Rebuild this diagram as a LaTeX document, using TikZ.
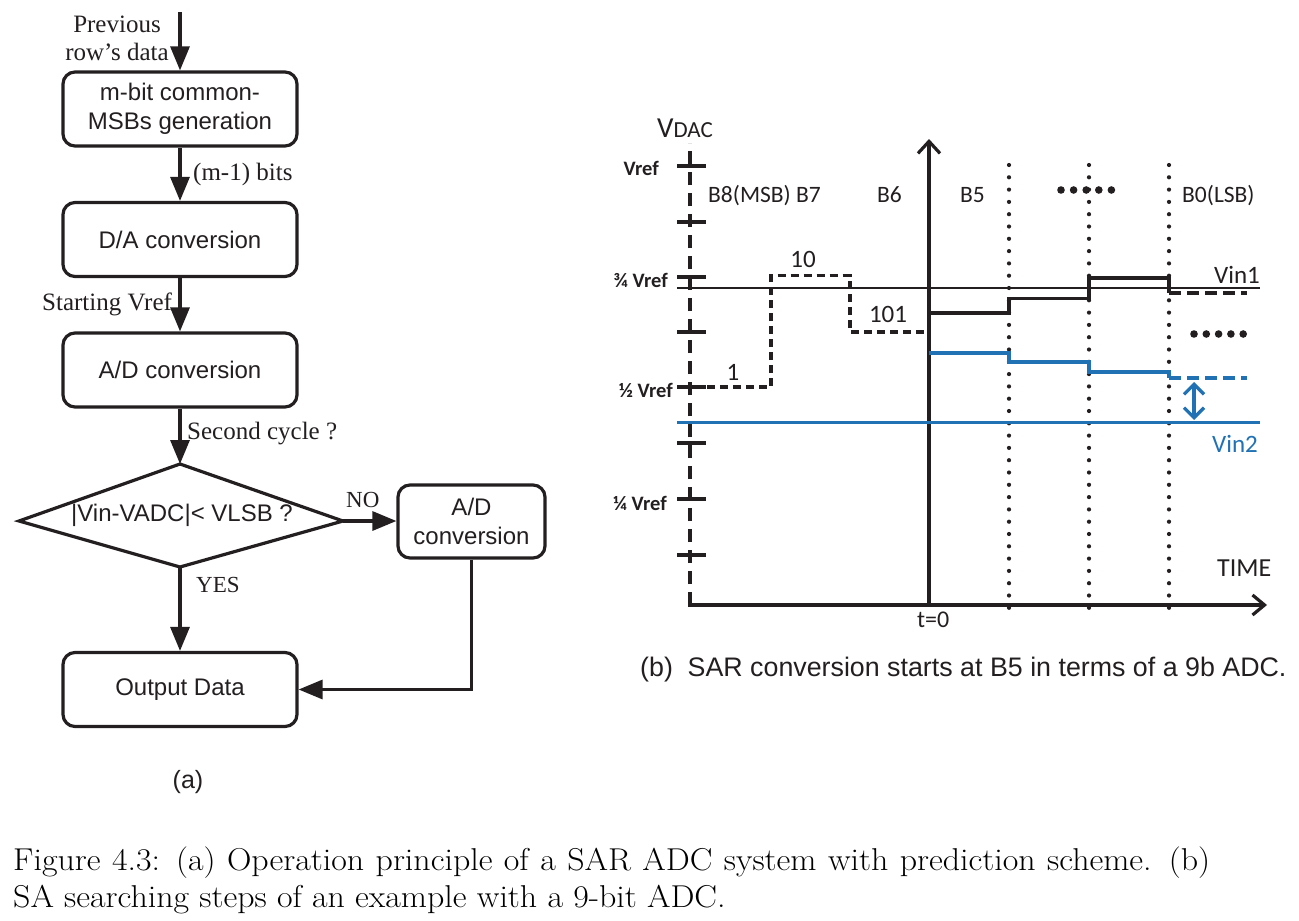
\documentclass[tikz,border=0pt]{standalone}
\usepackage{fontspec}
\newfontfamily\arialf{Liberation Sans}
\newfontfamily\timesf{Liberation Serif}
\newfontfamily\calf{Carlito}
\usetikzlibrary{arrows.meta,shapes.geometric}
\definecolor{ink}{RGB}{35,31,32}
\definecolor{vblue}{RGB}{33,113,181}
\begin{document}
\begin{tikzpicture}[x=1pt,y=-1pt,
  box/.style={draw=ink, line width=3.2pt, rounded corners=12pt, minimum width=234pt, minimum height=74pt, inner sep=0pt, font=\arialf\fontsize{24pt}{29pt}\selectfont, align=center, text=ink},
  flow/.style={draw=ink, line width=3.2pt, -{Triangle[length=24pt,width=19pt]}},
  slab/.style={font=\timesf\fontsize{25pt}{30pt}\selectfont, text=ink, inner sep=0pt},
  clab/.style={font=\calf\fontsize{23.5pt}{27pt}\selectfont, text=ink, inner sep=0pt},
  nlab/.style={font=\calf\fontsize{25pt}{29pt}\selectfont, text=ink, inner sep=0pt},
  tlab/.style={font=\calf\bfseries\fontsize{20.5pt}{24pt}\selectfont, text=ink, inner sep=0pt, anchor=base east},
  thick3/.style={line width=3.2pt},
  ]
\useasboundingbox (0,0) rectangle (1299,921);

% ---------------- flowchart (a)
\node[box] (b1) at (180,109) {m-bit common-\\MSBs generation};
\node[box] (b2) at (180,239.5) {D/A conversion};
\node[box] (b3) at (180,370) {A/D conversion};
\node[font=\arialf\fontsize{24pt}{29pt}\selectfont, text=ink, inner sep=0pt] (d) at (182,515) {|Vin-VADC|< VLSB ?};
\coordinate (dt) at (180,464);
\coordinate (dr) at (343,521);
\coordinate (db) at (180,567);
\coordinate (dl) at (19,521);
\draw[ink, line width=3.2pt, line join=miter] (dt) -- (dr) -- (db) -- (dl) -- cycle;
\node[box, minimum width=147pt, minimum height=73pt] (b4) at (471.5,521.5) {A/D\\conversion};
\node[box] (b5) at (180,689.5) {Output Data};
\coordinate (top) at (180,12);

\draw[flow] (top) -- (b1);
\draw[flow] (b1) -- (b2);
\draw[flow] (b2) -- (b3);
\draw[flow] (b3) -- (dt);
\draw[flow] (dr) -- (dr -| b4.west);
\draw[flow] (db) -- (b5);
\draw[flow] (b4.south) |- (b5.east);

\node[slab, anchor=base] (prev1) at (117,32) {Previous};
\node[slab, anchor=base] (prev2) at (117,60) {row’s data};
\node[slab, anchor=base west] (mbits) at (193,180) {(m-1) bits};
\node[slab, anchor=base west] (svref) at (42,310) {Starting Vref};
\node[slab, anchor=base west] (sec) at (187,439) {Second cycle ?};
\node[slab, anchor=base west, font=\timesf\fontsize{23pt}{28pt}\selectfont] (no) at (346,507) {NO};
\node[slab, anchor=base west, font=\timesf\fontsize{23pt}{28pt}\selectfont] (yes) at (196,592) {YES};
\node[font=\arialf\fontsize{25pt}{30pt}\selectfont, anchor=base, inner sep=0pt, text=ink] (capa) at (188,788) {(a)};

% ---------------- chart (b)
\draw[ink, thick3, dash pattern=on 13pt off 8pt] (690,605) -- (690,143);
\foreach \y in {166,222,277,332,387,443,499,555}
  \draw[ink, thick3] (677,\y) -- (706,\y);
\draw[ink, thick3, -{Straight Barb[length=12pt,width=20pt]}] (688.4,605) -- (1267,605);
\draw[ink, thick3, -{Straight Barb[length=12pt,width=22pt]}] (929,606.6) -- (929,139);
\foreach \x in {1009,1089,1169}
  \draw[ink, line width=4.2pt, line cap=round, dash pattern=on 0pt off 12.3pt] (\x,165) -- (\x,617);

\draw[ink, line width=1.7pt] (677,288) -- (1260,288);
\draw[vblue, line width=2.3pt] (677,422.5) -- (1260,422.5);

\draw[ink, line width=3.3pt, dash pattern=on 8pt off 5pt] (707,387) -- (771,387) -- (771,275.5) -- (850,275.5) -- (850,332) -- (928,332);
\draw[ink, line width=3.3pt] (929,313) -- (1009,313) -- (1009,298.5) -- (1089,298.5) -- (1089,278) -- (1169,278) -- (1169,293);
\draw[ink, line width=3.3pt, dash pattern=on 12pt off 6pt] (1169,293) -- (1247,293);
\draw[vblue, line width=3.3pt] (929,353) -- (1009,353) -- (1009,362) -- (1089,362) -- (1089,372) -- (1169,372) -- (1169,378);
\draw[vblue, line width=3.3pt, dash pattern=on 12pt off 6pt] (1169,378) -- (1247,378);
\coordinate (dat) at (1194,382);
\coordinate (dab) at (1194,420);
\draw[vblue, line width=3.3pt, {Straight Barb[length=10pt,width=20pt]}-{Straight Barb[length=10pt,width=20pt]}] (dat) -- (dab);

\foreach \i in {0,...,4} {
  \fill[ink] (1061+\i*12.6,190) circle (3.8);
  \fill[ink] (1194+\i*12.3,334) circle (3.8);
}

\node[clab, anchor=base west] (vdac) at (657,137) {\fontsize{29pt}{30pt}\selectfont V\fontsize{23pt}{26pt}\selectfont DAC};
\node[tlab] (lv) at (659,175) {Vref};
\node[tlab] (l34) at (668,287) {¾ Vref};
\node[tlab] (l12) at (673,397) {½ Vref};
\node[tlab] (l14) at (667,510) {¼ Vref};

\node[clab, anchor=base west] (b87) at (708,202) {B8(MSB) B7};
\node[clab, anchor=base west] (b6) at (877,202) {B6};
\node[clab, anchor=base west] (b5l) at (960,202) {B5};
\node[clab, anchor=base west] (b0) at (1182,202) {B0(LSB)};
\node[nlab, anchor=base] (s1) at (733,380) {1};
\node[nlab, anchor=base] (s10) at (803,267) {10};
\node[nlab, anchor=base] (s101) at (888,322) {101};
\node[nlab, anchor=base west] (vin1) at (1214,283) {Vin1};
\node[nlab, anchor=base west, text=vblue] (vin2) at (1212,452) {Vin2};
\node[nlab, anchor=base west, font=\calf\fontsize{26pt}{30pt}\selectfont] (time) at (1217,576) {TIME};
\node[nlab, anchor=base west, font=\calf\fontsize{24pt}{28pt}\selectfont] (t0) at (917,627) {t=0};
\node[font=\arialf\fontsize{26.8pt}{31pt}\selectfont, anchor=base west, inner sep=0pt, text=ink] (capb) at (640,676) {(b)\hspace{0.55em}SAR conversion starts at B5 in terms of a 9b ADC.};

% ---------------- figure caption
\node[anchor=base west, inner sep=0pt, font=\fontsize{31.6pt}{37pt}\selectfont] (cap1) at (13,870) {\scalebox{1.072}[1]{\makebox[1116.6pt][s]{Figure 4.3: (a) Operation principle of a SAR ADC system with prediction scheme. (b)}}};
\node[anchor=base west, inner sep=0pt, font=\fontsize{31.6pt}{37pt}\selectfont] (cap2) at (13,907) {\scalebox{1.072}[1]{SA searching steps of an example with a 9-bit ADC.}};
\end{tikzpicture}
\end{document}
